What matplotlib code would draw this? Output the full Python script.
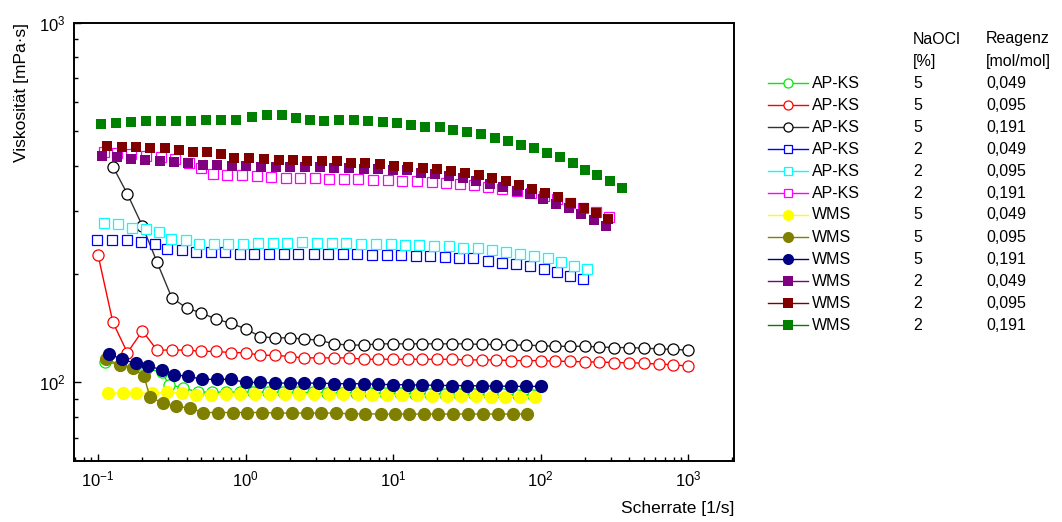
import matplotlib
matplotlib.use("Agg")
import matplotlib.pyplot as plt
from matplotlib.lines import Line2D
from matplotlib.ticker import LogLocator

plt.rcParams['font.family'] = ['Liberation Sans', 'DejaVu Sans']
plt.rcParams['mathtext.fontset'] = 'custom'
plt.rcParams['mathtext.rm'] = 'Liberation Sans'

# shear rate grid (1/s) used by the AP-KS 5 % runs
rate_grid = [0.1, 0.126, 0.158, 0.2, 0.251, 0.316, 0.398, 0.501, 0.631, 0.794,
             1, 1.26, 1.58, 2, 2.51, 3.16, 3.98, 5.01, 6.31, 7.94,
             10, 12.6, 15.8, 20, 25.1, 31.6, 39.8, 50.1, 63.1, 79.4,
             100, 126, 158, 200, 251, 316, 398, 501, 631, 794, 1000]

ap5_049_x = [0.112, 0.140, 0.172, 0.212, 0.270, 0.303, 0.378, 0.474, 0.590, 0.738, 0.918,
             1.13, 1.43, 1.80, 2.26, 2.85, 3.59, 4.48, 5.61, 6.98, 8.82, 11.2, 14.1, 17.8,
             22.5, 28.1, 35.6, 44.6, 56.1, 70.6, 89.3]
ap5_049_y = [114, 112, 110, 109, 107, 98.5, 96.7, 94.0, 94.0, 94.0, 94.0, 94.0, 93.9, 93.9,
             93.8, 93.8, 93.7, 93.6, 93.5, 93.4, 93.3, 93.2, 93.1, 93.0, 92.9, 92.8, 92.7,
             92.6, 92.6, 92.5, 92.4]

ap5_095_x = rate_grid
ap5_095_y = [226, 147, 121, 139, 123, 123, 123, 122, 122, 121, 121, 119, 119, 118, 117, 117,
             117, 117, 116, 116, 116, 116, 116, 116, 116, 115.5, 115.5, 115.5, 115, 115, 115,
             114.5, 114.5, 114, 114, 113.5, 113.5, 113, 112.5, 112, 111]

ap5_191_x = rate_grid[1:]
ap5_191_y = [398, 334, 272, 216, 172, 161, 156, 150, 146, 141, 134, 133, 133, 132, 131, 128,
             127, 127, 128, 128, 128, 128, 128, 128, 128, 127.5, 127.5, 127, 127, 126.5, 126,
             126, 126, 125.5, 125, 125, 124.5, 124, 123.5, 123]

ap2_049_x = [0.098, 0.124, 0.157, 0.196, 0.243, 0.295, 0.369, 0.461, 0.580, 0.726, 0.918,
             1.15, 1.44, 1.82, 2.28, 2.89, 3.65, 4.56, 5.73, 7.18, 9.07, 11.4, 14.4, 17.8,
             22.4, 28.0, 35.0, 43.8, 54.8, 67.9, 84.5, 105, 129, 159, 195]
ap2_049_y = [249, 249, 248, 246, 243, 235, 234, 231, 230, 230, 228, 228, 228, 228, 228, 227,
             227, 227, 227, 226, 226, 226, 225, 224, 223, 222, 221, 218, 215, 213, 210, 207,
             203, 198, 194]

ap2_095_x = [0.110, 0.137, 0.171, 0.211, 0.261, 0.313, 0.393, 0.484, 0.611, 0.764, 0.966,
             1.21, 1.53, 1.92, 2.43, 3.04, 3.84, 4.80, 6.07, 7.67, 9.66, 12.1, 15.0, 19.0,
             24.0, 30.0, 37.5, 46.9, 58.3, 72.6, 90.4, 112, 137, 169, 208]
ap2_095_y = [278, 275, 269, 267, 261, 250, 249, 242, 243, 243, 243, 244, 244, 244, 245, 244,
             244, 244, 243, 242, 242, 241, 241, 240, 239, 237, 236, 233, 230, 228, 224, 221,
             216, 211, 207]

ap2_191_x = [0.109, 0.134, 0.167, 0.211, 0.266, 0.333, 0.414, 0.497, 0.600, 0.753, 0.943,
             1.19, 1.49, 1.87, 2.34, 2.96, 3.70, 4.65, 5.82, 7.35, 9.25, 11.5, 14.5, 18.3,
             22.8, 28.5, 35.6, 44.3, 55.1, 69.0, 85.9, 105, 129, 159, 195, 238, 290]
ap2_191_y = [438, 434, 431, 427, 423, 417, 408, 394, 380, 378, 377, 375, 373, 371, 371, 370,
             368, 368, 367, 366, 364, 363, 362, 360, 358, 356, 353, 349, 344, 341, 336, 330,
             323, 315, 305, 297, 288]

wms5_049_x = [0.117, 0.147, 0.180, 0.231, 0.295, 0.369, 0.461, 0.580, 0.734, 0.918, 1.16,
              1.47, 1.85, 2.32, 2.93, 3.69, 4.61, 5.77, 7.18, 9.07, 11.5, 14.5, 18.3, 23.1,
              28.9, 36.6, 45.9, 57.7, 72.6, 91.8]
wms5_049_y = [93.4, 93.4, 93.4, 93.4, 93.8, 93.4, 92.4, 92.4, 92.9, 92.9, 92.9, 92.9, 92.9,
              92.9, 92.9, 92.9, 92.9, 92.9, 92.5, 92.3, 92.1, 92.0, 91.8, 91.7, 91.6, 91.5,
              91.4, 91.4, 91.3, 91.2]

wms5_095_x = [0.113, 0.141, 0.172, 0.205, 0.225, 0.277, 0.338, 0.421, 0.518, 0.648, 0.819,
              1.03, 1.30, 1.64, 2.06, 2.60, 3.24, 4.09, 5.17, 6.46, 8.26, 10.3, 12.9, 16.2,
              20.3, 25.6, 32.4, 40.6, 51.3, 64.9, 81.5]
wms5_095_y = [116, 112, 110, 104, 90.9, 87.7, 85.8, 84.9, 82.5, 82.5, 82.5, 82.5, 82.5, 82.2,
              82.2, 82.2, 82.2, 82.2, 81.8, 81.8, 81.7, 81.7, 81.7, 81.7, 81.7, 81.7, 81.7,
              81.7, 81.7, 81.7, 81.7]

wms5_191_x = [0.119, 0.145, 0.180, 0.217, 0.273, 0.329, 0.409, 0.509, 0.638, 0.798, 1.00,
              1.26, 1.58, 2.00, 2.51, 3.16, 3.98, 5.01, 6.31, 7.94, 10.0, 12.6, 15.8, 20.0,
              25.1, 31.6, 39.8, 50.1, 63.1, 79.4, 100]
wms5_191_y = [120, 116, 113, 111, 108.5, 105, 104, 102, 102, 102, 100, 100, 99.6, 99.6, 99.6,
              99.6, 99.2, 99.2, 99.2, 98.8, 98.6, 98.5, 98.3, 98.2, 98.0, 98.0, 97.8, 97.7,
              97.6, 97.5, 97.5]

wms2_049_x = [0.107, 0.134, 0.168, 0.208, 0.263, 0.327, 0.409, 0.513, 0.638, 0.806, 1.01,
              1.27, 1.60, 2.00, 2.53, 3.20, 4.00, 5.06, 6.36, 7.94, 9.95, 12.4, 15.4, 19.3,
              24.0, 29.7, 36.6, 45.5, 56.0, 69.0, 84.9, 104, 127, 155, 188, 230, 278]
wms2_049_y = [427, 423, 417, 416, 413, 410, 407, 402, 401, 400, 400, 398, 398, 398, 398, 396,
              394, 394, 392, 392, 390, 388, 383, 379, 375, 369, 363, 357, 350, 341, 333, 324,
              314, 305, 293, 283, 272]

wms2_095_x = [0.115, 0.145, 0.181, 0.225, 0.285, 0.354, 0.443, 0.546, 0.683, 0.840, 1.06,
              1.33, 1.69, 2.11, 2.63, 3.32, 4.15, 5.17, 6.46, 8.16, 10.2, 12.6, 15.9, 19.8,
              24.6, 30.6, 38.1, 46.9, 58.0, 71.1, 87.1, 107, 131, 160, 196, 238, 287]
wms2_095_y = [454, 452, 450, 449, 447, 441, 438, 436, 431, 420, 420, 418, 416, 416, 411, 411,
              411, 407, 407, 404, 400, 396, 393, 392, 387, 382, 377, 370, 362, 353, 344, 336,
              327, 316, 305, 295, 284]

wms2_191_x = [0.104, 0.132, 0.167, 0.211, 0.266, 0.336, 0.425, 0.537, 0.679, 0.859, 1.10,
              1.39, 1.76, 2.20, 2.74, 3.40, 4.30, 5.44, 6.77, 8.52, 10.7, 13.2, 16.5, 20.8,
              25.5, 31.8, 39.5, 49.2, 60.3, 73.8, 90.4, 111, 136, 166, 200, 242, 296, 357]
wms2_191_y = [522, 526, 529, 531, 531, 533, 534, 537, 537, 537, 548, 552, 552, 543, 537, 534,
              537, 537, 531, 529, 526, 520, 514, 511, 504, 497, 489, 479, 470, 458, 447, 433,
              422, 406, 390, 376, 362, 348]

materials = ['AP-KS'] * 6 + ['WMS'] * 6
naocl = ['5', '5', '5', '2', '2', '2', '5', '5', '5', '2', '2', '2']
reagenz = ['0,049', '0,095', '0,191'] * 4

series = [
    (ap5_049_x, ap5_049_y, '#00ee00', 'o', False, True),
    (ap5_095_x, ap5_095_y, '#ff0000', 'o', False, True),
    (ap5_191_x, ap5_191_y, '#000000', 'o', False, True),
    (ap2_049_x, ap2_049_y, '#0000ff', 's', False, False),
    (ap2_095_x, ap2_095_y, '#00ffff', 's', False, False),
    (ap2_191_x, ap2_191_y, '#ff00ff', 's', False, False),
    (wms5_049_x, wms5_049_y, '#ffff00', 'o', True, True),
    (wms5_095_x, wms5_095_y, '#808000', 'o', True, True),
    (wms5_191_x, wms5_191_y, '#000080', 'o', True, True),
    (wms2_049_x, wms2_049_y, '#800080', 's', True, False),
    (wms2_095_x, wms2_095_y, '#800000', 's', True, False),
    (wms2_191_x, wms2_191_y, '#008000', 's', True, False),
]

W, H = 1062, 522
fig = plt.figure(figsize=(W / 100, H / 100), dpi=100)
ax = fig.add_axes([74 / W, 1 - 461 / H, (734 - 74) / W, (461 - 22.5) / H])

for x, y, c, m, filled, line in series:
    lc = '#333333' if c == '#000000' else c
    if m == 'o':
        ms = 9.5 if filled else 8
    else:
        ms = 7.5 if filled else 7.0
    ax.plot(x, y, linestyle='-' if line else 'none', color=lc, lw=1.0,
            marker=m, markersize=ms,
            markerfacecolor=c if filled else 'white',
            markeredgecolor=c, markeredgewidth=0 if filled else 0.9)

ax.set_xscale('log')
ax.set_yscale('log')
ax.set_xlim(0.0687, 2050)
ax.set_ylim(60.5, 1000)
ax.xaxis.set_major_locator(LogLocator(base=10, numticks=10))
ax.xaxis.set_minor_locator(LogLocator(base=10, subs=range(2, 10), numticks=20))
ax.yaxis.set_minor_locator(LogLocator(base=10, subs=range(2, 10), numticks=20))
ax.tick_params(which='both', direction='in', top=False, right=False, labelsize=12)
ax.tick_params(which='major', length=5, width=1.0, pad=6)
ax.tick_params(which='minor', length=3, width=1.0)
for s in ax.spines.values():
    s.set_linewidth(1.4)

ax.set_ylabel('Viskosität [mPa·s]', fontsize=12.5)
ax.yaxis.set_label_coords(-0.068, 0.84)
ax.set_xlabel('Scherrate [1/s]', fontsize=12.5, ha='right', va='center')
ax.xaxis.set_label_coords(1.0, -0.108)

# legend, drawn as a small table to the right of the axes
def fx(px):
    return px / W

def fy(py):
    return 1 - py / H

fs = 11.5
fig.text(fx(913), fy(39), 'NaOCl', fontsize=fs, va='center')
fig.text(fx(913), fy(61.5), '[%]', fontsize=fs, va='center')
fig.text(fx(986), fy(39), 'Reagenz', fontsize=fs, va='center')
fig.text(fx(986), fy(61.5), '[mol/mol]', fontsize=fs, va='center')

for i, (x, y, c, m, filled, line) in enumerate(series):
    ry = fy(83 + 22 * i)
    lc = '#333333' if c == '#000000' else c
    fig.add_artist(Line2D([fx(768), fx(808)], [ry, ry], color=lc, lw=1.0,
                          transform=fig.transFigure))
    if m == 'o':
        ms = 8 if filled else 6.5
    else:
        ms = 6.5 if filled else 6.0
    fig.add_artist(Line2D([fx(788)], [ry], linestyle='none', marker=m, markersize=ms,
                          markerfacecolor=c if filled else 'white', markeredgecolor=c,
                          markeredgewidth=0 if filled else 0.9,
                          transform=fig.transFigure))
    fig.text(fx(812), ry, materials[i], fontsize=fs, va='center')
    fig.text(fx(913), ry, naocl[i], fontsize=fs, va='center')
    fig.text(fx(986), ry, reagenz[i], fontsize=fs, va='center')

fig.savefig('out.png', dpi=100)
